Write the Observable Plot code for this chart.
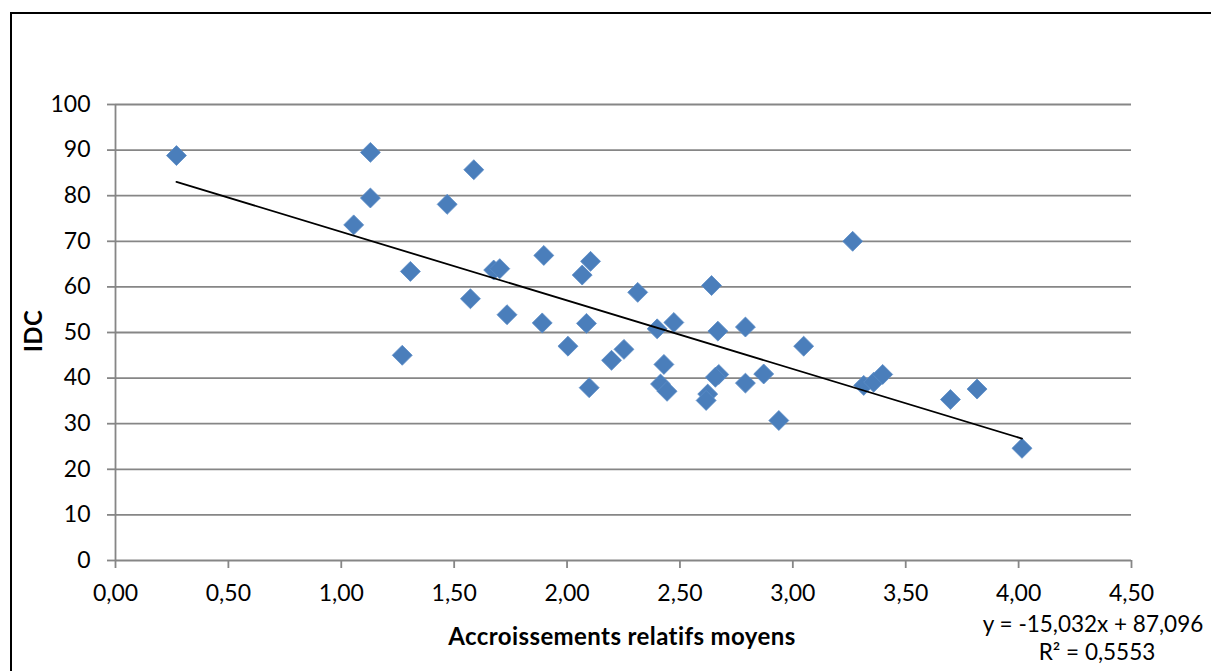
<!DOCTYPE html>
<html>
<head>
<meta charset="utf-8">
<script src="https://cdn.jsdelivr.net/npm/d3@7"></script>
<script src="https://cdn.jsdelivr.net/npm/@observablehq/plot@0.6"></script>
<style>
  html, body { margin: 0; padding: 0; background: #fff; overflow: hidden; }
  #wrap { position: relative; width: 1211px; height: 671px; overflow: hidden; font-family: Lato, "Open Sans", sans-serif; }
  #frame { position: absolute; left: 10px; top: 12px; width: 1300px; height: 800px; border: 2px solid #000; box-sizing: border-box; }
  #chart { position: absolute; left: 0; top: 0; }
  .lbl { position: absolute; color: #000; font-size: 23px; white-space: nowrap; line-height: 1; }
  #xtitle { left: 622px; top: 636px; transform: translate(-50%, -50%); font-weight: bold; font-size: 24px; letter-spacing: 0.4px; }
  #ytitle { left: 33px; top: 331px; transform: translate(-50%, -50%) rotate(-90deg); font-weight: bold; font-size: 24px; letter-spacing: 0.4px; }
  #eq1 { left: 1093px; top: 624px; transform: translate(-50%, -50%); font-size: 22.5px; }
  #eq2 { left: 1097px; top: 652px; transform: translate(-50%, -50%); font-size: 22.5px; }
</style>
</head>
<body>
<div id="wrap">
  <div id="frame"></div>
  <div id="chart"></div>
  <div class="lbl" id="xtitle">Accroissements relatifs moyens</div>
  <div class="lbl" id="ytitle">IDC</div>
  <div class="lbl" id="eq1"></div>
  <div class="lbl" id="eq2"></div>
</div>
<script>
// Data
const accroissements = [0.270, 1.129, 1.129, 1.055, 1.587, 1.469, 1.306, 1.270, 1.572, 1.675,
  1.702, 1.734, 1.897, 1.890, 2.004, 2.104, 2.067, 2.086, 2.098, 2.313,
  2.197, 2.252, 2.399, 2.473, 2.429, 2.414, 2.443, 2.640, 2.668, 2.790,
  2.672, 2.657, 2.623, 2.616, 2.790, 2.871, 3.048, 2.938, 3.265, 3.314,
  3.358, 3.398, 3.698, 3.816, 4.015];
const idc = [88.8, 89.5, 79.5, 73.6, 85.7, 78.1, 63.4, 45.0, 57.4, 63.7,
  64.0, 53.9, 66.9, 52.1, 47.0, 65.6, 62.6, 52.0, 37.9, 58.8,
  43.9, 46.3, 50.8, 52.2, 43.0, 38.7, 37.1, 60.3, 50.3, 51.2,
  40.8, 40.2, 36.5, 35.1, 38.9, 40.9, 47.0, 30.7, 70.0, 38.4,
  39.1, 40.8, 35.3, 37.6, 24.6];
const xTicks = [0, 0.5, 1, 1.5, 2, 2.5, 3, 3.5, 4, 4.5];
const yTicks = [0, 10, 20, 30, 40, 50, 60, 70, 80, 90, 100];
const slope = -15.032;
const intercept = 87.096;
const r2 = 0.5553;

const points = accroissements.map((x, i) => ({x, y: idc[i]}));
const xMin = d3.min(accroissements), xMax = d3.max(accroissements);
const trend = [xMin, xMax].map(x => ({x, y: slope * x + intercept}));

const fmtComma = (v, d) => v.toFixed(d).replace(".", ",");
const gray = "#868686";

const chart = Plot.plot({
  width: 1211,
  height: 671,
  marginLeft: 115,
  marginRight: 80,
  marginTop: 104,
  marginBottom: 111,
  style: {fontFamily: "Lato, 'Open Sans', sans-serif", fontSize: "23px", background: "transparent", overflow: "visible"},
  x: {domain: [0, 4.5]},
  y: {domain: [0, 100]},
  marks: [
    Plot.gridY(yTicks, {stroke: gray, strokeOpacity: 1, strokeWidth: 1.8}),
    Plot.ruleX([0], {y1: 0, y2: 100, stroke: gray, strokeWidth: 1.8}),
    Plot.axisY(yTicks, {tickSize: 8, tickPadding: 17, stroke: gray, strokeWidth: 1.8, fill: "#000", tickFormat: d => String(d), label: null, fontSize: 23}),
    Plot.axisX(xTicks, {tickSize: 8, tickPadding: 16, stroke: gray, strokeWidth: 1.8, fill: "#000", tickFormat: d => fmtComma(d, 2), label: null, fontSize: 23}),
    Plot.dot(points, {x: "x", y: "y", symbol: "diamond2", r: 9, fill: "#4a7ebb", stroke: "#5b8cc6", strokeWidth: 0.8}),
    Plot.line(trend, {x: "x", y: "y", stroke: "#000", strokeWidth: 1.8})
  ]
});
document.getElementById("chart").appendChild(chart);

document.getElementById("eq1").textContent = "y = " + fmtComma(slope, 3) + "x + " + fmtComma(intercept, 3);
document.getElementById("eq2").textContent = "R² = " + fmtComma(r2, 4);
</script>
</body>
</html>
